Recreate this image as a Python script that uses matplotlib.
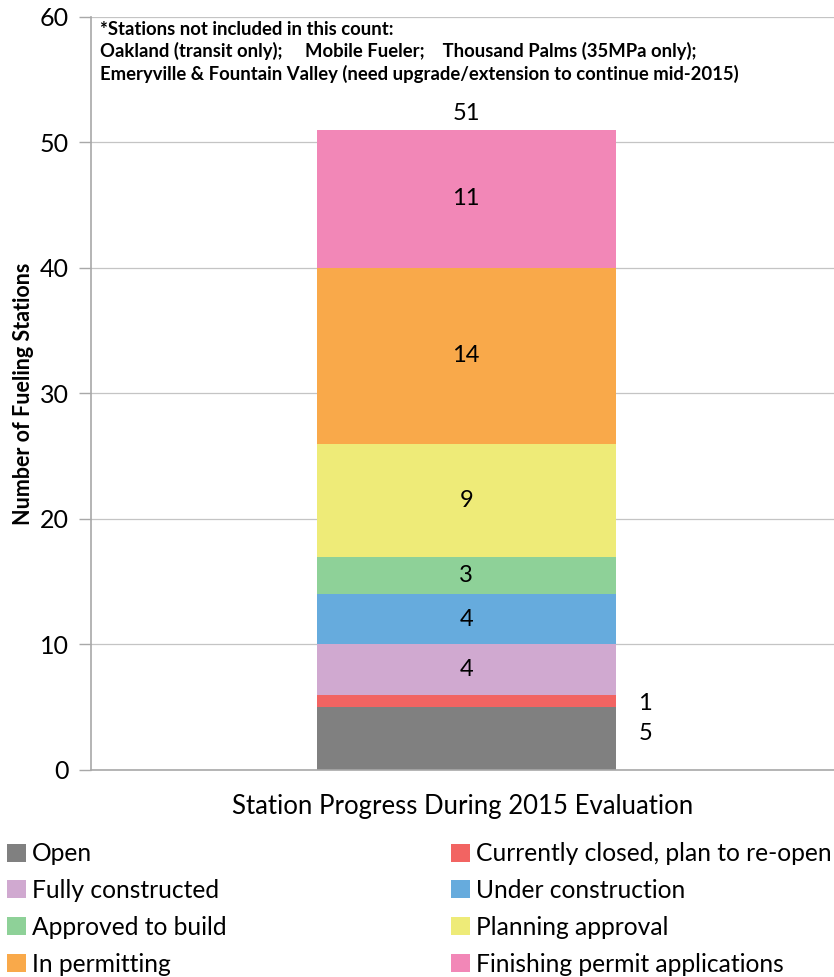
import matplotlib.pyplot as plt
import matplotlib
from matplotlib.patches import Patch

matplotlib.rcParams['font.family'] = ['Lato', 'DejaVu Sans']

categories = ['Open', 'Currently closed, plan to re-open', 'Fully constructed',
              'Under construction', 'Approved to build', 'Planning approval',
              'In permitting', 'Finishing permit applications']
values = [5, 1, 4, 4, 3, 9, 14, 11]
colors = ['#808080', '#F26462', '#D0A9D0', '#66ABDD', '#8ED198', '#EEEB78',
          '#F9A94A', '#F287B7']
total = sum(values)

fig = plt.figure(figsize=(8.34, 9.77), dpi=100)
ax = fig.add_axes([0.109, 0.2119, 0.891, 0.7707])

bottom = 0
for i, v in enumerate(values):
    ax.bar(0, v, bottom=bottom, width=0.805, color=colors[i], zorder=2)
    mid = bottom + v / 2
    if i >= 2:
        ax.text(0, mid, str(v), ha='center', va='center', fontsize=17, zorder=3)
    bottom += v
# small segments labelled beside the bar
ax.text(0.463, 5.3, str(values[1]), ha='left', va='center', fontsize=17)
ax.text(0.463, 2.9, str(values[0]), ha='left', va='center', fontsize=17)
ax.text(0, total + 0.5, str(total), ha='center', va='bottom', fontsize=17)

ax.set_xlim(-1.01, 0.99)
ax.set_ylim(0, 60)
ax.set_yticks(range(0, 61, 10))
ax.set_xticks([])
ax.tick_params(axis='y', labelsize=18, length=9, color='#A8A8A8', width=1.0, pad=7)
ax.grid(axis='y', color='#C4C4C4', linewidth=0.9, zorder=0)
for s in ['top', 'right']:
    ax.spines[s].set_visible(False)
for s in ['left', 'bottom']:
    ax.spines[s].set_color('#A8A8A8')
    ax.spines[s].set_linewidth(1.2)

ax.set_ylabel('Number of Fueling Stations', fontsize=15.5, fontweight='bold', labelpad=4)
ax.set_xlabel('Station Progress During 2015 Evaluation', fontsize=18.5, labelpad=17)

note = ('*Stations not included in this count:\n'
        'Oakland (transit only);     Mobile Fueler;    Thousand Palms (35MPa only);\n'
        'Emeryville & Fountain Valley (need upgrade/extension to continue mid-2015)')
ax.text(0.012, 0.995, note, transform=ax.transAxes, ha='left', va='top',
        fontsize=13.3, fontweight='bold', linespacing=1.3)

handles = [Patch(facecolor=c, edgecolor='none') for c in colors]
order = [0, 2, 4, 6, 1, 3, 5, 7]
fig.legend([handles[i] for i in order], [categories[i] for i in order],
           loc='upper left', bbox_to_anchor=(-0.003, 0.148), ncol=2, frameon=False,
           fontsize=17.7, handlelength=0.75, handleheight=0.75, handletextpad=0.25,
           columnspacing=9.15, labelspacing=0.56, borderaxespad=0.0)

fig.savefig('out.png', dpi=100)
